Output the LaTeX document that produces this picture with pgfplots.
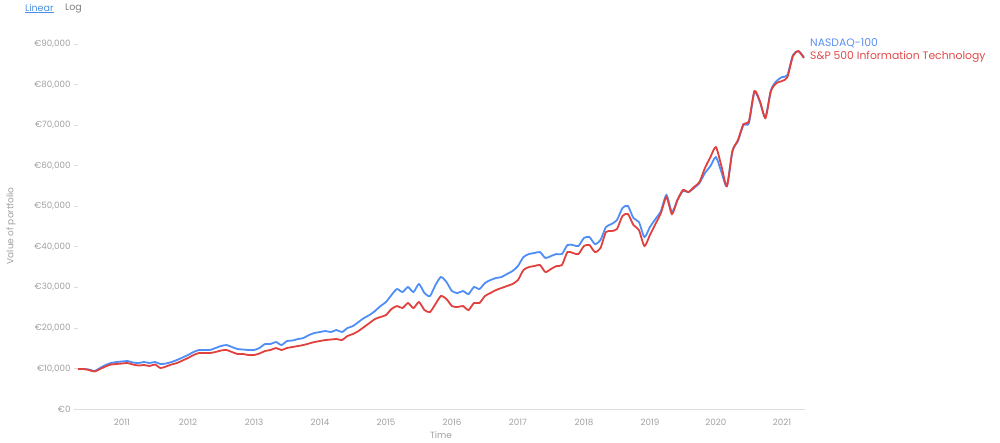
\documentclass[border=0pt]{standalone}
\usepackage{pgfplots}
\pgfplotsset{compat=1.18}
\usepackage{pgfplotstable}
\usepackage{fontspec}
\setmainfont{Poppins}
\definecolor{nasblue}{HTML}{4F8EF7}
\definecolor{spred}{HTML}{E0413D}
\definecolor{legblue}{HTML}{5B8FF0}
\definecolor{legred}{HTML}{E04A4A}
\definecolor{lblgray}{HTML}{A0A0A0}
\definecolor{axgray}{HTML}{DDDDDD}
\definecolor{linkblue}{HTML}{4A90E2}
\pgfplotstableread{
k nasdaq spit
0 9860 9860
1 9860 9860
2 9737 9614
3 9367 9244
4 10107 9860
5 10846 10476
6 11339 10969
7 11586 11093
8 11709 11216
9 11832 11339
10 11462 10969
11 11339 10723
12 11586 10846
13 11339 10600
14 11586 10969
15 11093 10107
16 11216 10476
17 11586 10969
18 12079 11339
19 12695 11955
20 13311 12572
21 14051 13311
22 14544 13804
23 14544 13804
24 14544 13804
25 15037 14051
26 15530 14420
27 15776 14544
28 15283 14051
29 14790 13558
30 14667 13558
31 14544 13311
32 14544 13311
33 15037 13681
34 16023 14297
35 16023 14544
36 16516 15037
37 15776 14544
38 16762 15037
39 16885 15283
40 17255 15530
41 17502 15776
42 18241 16146
43 18734 16516
44 18981 16762
45 19227 17009
46 18981 17132
47 19474 17255
48 18981 17009
49 19967 17995
50 20460 18488
51 21446 19227
52 22432 20213
53 23171 21199
54 24157 22185
55 25390 22678
56 26376 23171
57 28101 24650
58 29580 25390
59 28841 24897
60 30073 26129
61 28841 24897
62 30813 26376
63 28594 24404
64 27855 23911
65 30566 25883
66 32538 27855
67 31306 27115
68 29087 25390
69 28594 25143
70 29087 25390
71 28348 24404
72 30073 26129
73 29580 26129
74 31059 27855
75 31799 28594
76 32292 29334
77 32538 29827
78 33278 30320
79 34017 30813
80 35250 31799
81 37468 34264
82 38208 35003
83 38454 35250
84 38701 35496
85 37222 33771
86 37715 34510
87 38208 35250
88 38208 35496
89 40426 38701
90 40426 38454
91 40180 38208
92 42152 40180
93 42398 40426
94 40673 38701
95 41659 39687
96 44863 43631
97 45603 43877
98 46589 44370
99 49547 47575
100 50040 48068
101 47082 45356
102 46096 44124
103 42398 40180
104 44863 42891
105 46835 45603
106 48807 48314
107 52751 52258
108 48561 48068
109 51519 51519
110 53737 53984
111 53491 53491
112 54477 54723
113 55709 55956
114 58174 59407
115 59900 62118
116 62118 64583
117 58421 59900
118 54970 54970
119 63597 63597
120 66062 66309
121 70006 70253
122 70499 70992
123 78141 78387
124 75676 75922
125 71978 71732
126 78634 78387
127 80852 80359
128 81838 80852
129 82331 81838
130 87261 87015
131 88247 88247
132 86768 86522
}\data
\begin{document}
\begin{tikzpicture}
\useasboundingbox (-78pt,-33pt) rectangle (922pt,409pt);
\begin{axis}[
  scale only axis,
  width=727pt, height=365pt,
  xmin=0, xmax=132.2, ymin=0, ymax=90000,
  clip=false,
  axis lines=left,
  axis line style={-},
  x axis line style={draw=axgray, line width=0.8pt},
  y axis line style={draw=none},
  tick align=outside,
  major tick length=4pt,
  xtick style={draw=none},
  ytick style={draw=axgray, line width=0.6pt},
  xtick={8,20,32,44,56,68,80,92,104,116,128},
  xticklabels={2011,2012,2013,2014,2015,2016,2017,2018,2019,2020,2021},
  ytick={0,10000,20000,30000,40000,50000,60000,70000,80000,90000},
  yticklabels={{€0},{€10,000},{€20,000},{€30,000},{€40,000},{€50,000},{€60,000},{€70,000},{€80,000},{€90,000}},
  ticklabel style={font=\fontsize{8.7}{10}\selectfont, text=lblgray},
  xticklabel style={yshift=-3pt},
  scaled y ticks=false,
]
\addplot[nasblue, line width=1.8pt, smooth, tension=0.4] table[x=k, y=nasdaq]{\data};
\addplot[spred, line width=1.8pt, smooth, tension=0.4] table[x=k, y=spit]{\data};
\end{axis}
\node[anchor=west, text=legblue, font=\fontsize{10.8}{12}\selectfont, inner sep=0pt] at (732pt,366pt) {NASDAQ-100};
\node[anchor=west, text=legred, font=\fontsize{10.8}{12}\selectfont, inner sep=0pt] at (732pt,352pt) {S\&P 500 Information Technology};
\node[text=lblgray, font=\fontsize{9}{11}\selectfont, inner sep=0pt] at (363pt,-26.5pt) {Time};
\node[rotate=90, text=lblgray, font=\fontsize{9}{11}\selectfont, inner sep=0pt] at (-67pt,183pt) {Value of portfolio};
\node[anchor=west, text=linkblue, font=\fontsize{9.5}{11}\selectfont, inner sep=0pt] (lin) at (-53pt,401pt) {Linear};
\draw[linkblue, line width=0.5pt] (lin.west |- 0,396.5pt) -- (lin.east |- 0,396.5pt);
\node[anchor=west, text=gray, font=\fontsize{9.5}{11}\selectfont, inner sep=0pt] at (-13pt,401pt) {Log};
\end{tikzpicture}
\end{document}
